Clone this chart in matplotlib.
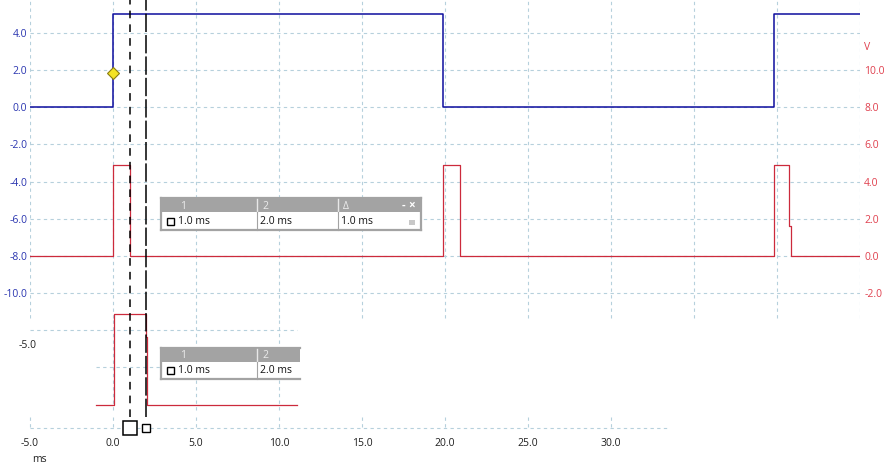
import matplotlib.pyplot as plt
from matplotlib.patches import Rectangle

plt.rcParams['font.family'] = ['Open Sans', 'DejaVu Sans']

# channel A (blue, left axis, V) - step trace
blue_t = [-5.0, 0.0, 0.0, 19.9, 19.9, 39.8, 39.8, 45.0]
blue_v = [0.0, 0.0, 5.05, 5.05, 0.0, 0.0, 5.05, 5.05]

# channel B (red, right axis, V) - short pulses
red_t = [-5.0, 0.0, 0.0, 1.02, 1.02, 19.9, 19.9, 20.9, 20.9,
         39.8, 39.8, 40.74, 40.74, 40.84, 40.84, 45.0]
red_v = [0.0, 0.0, 4.9, 4.9, 0.0, 0.0, 4.9, 4.9, 0.0,
         0.0, 4.9, 4.9, 1.6, 1.6, 0.0, 0.0]

# zoomed capture of channel B pasted under the main view
inset_t = [-1.0, 0.05, 0.05, 2.0, 2.0, 2.03, 2.03, 11.1]
inset_v = [0.0, 0.0, 4.9, 4.9, 3.7, 3.7, 0.0, 0.0]
inset_offset = -8.05

left_ticks = [4.0, 2.0, 0.0, -2.0, -4.0, -6.0, -8.0, -10.0]
right_ticks = [10.0, 8.0, 6.0, 4.0, 2.0, 0.0, -2.0]
x_grid = [-5, 0, 5, 10, 15, 20, 25, 30, 35, 40, 45]
x_labels = [-5.0, 0.0, 5.0, 10.0, 15.0, 20.0, 25.0, 30.0]

trigger = (0.0, 1.84)
cursors = [1.0, 2.0]
delta = cursors[1] - cursors[0]

BLUE = '#0d0d9e'
BLUE_TXT = '#2a35b0'
RED = '#cc2a3c'
RED_TXT = '#e0404e'
GRID = '#b6d0dc'
GREY = '#a3a3a3'

W, H = 892, 468


def fx(px):
    return px / W


def fy(py):
    return 1 - py / H


fig = plt.figure(figsize=(W / 100, H / 100), dpi=100)
ax = fig.add_axes([fx(30), fy(428), 830 / W, 428 / H])
ax.set_xlim(-5, 45)
ax.set_ylim(-17.27, 5.78)
for s in ax.spines.values():
    s.set_visible(False)

dash = (0, (3, 3))
# main grid
ax.hlines(left_ticks, -5, 45, colors=GRID, linestyles=dash, lw=0.8)
ax.vlines(x_grid, -11.35, 5.78, colors=GRID, linestyles=dash, lw=0.8)
# inset grid
ax.hlines(-12, -5, 11.1, colors=GRID, linestyles=dash, lw=0.8)
ax.hlines(-14, -1, 11.1, colors=GRID, linestyles=dash, lw=0.8)
ax.vlines([0, 5, 10], -16.3, -11.35, colors=GRID, linestyles=dash, lw=0.8)
# bottom axis line and short ticks
ax.hlines(-17.27, -5, 33.4, colors=GRID, linestyles=dash, lw=0.8, clip_on=False)
ax.vlines(x_labels, -16.68, -17.27, colors=GRID, linestyles=dash, lw=0.8, clip_on=False)

ax.plot(blue_t, blue_v, color=BLUE, lw=1.1, zorder=3)
ax.plot(*trigger, marker='D', ms=6, mfc='#f3e326', mec='#8a7d10', mew=0.8, zorder=5)

ax2 = ax.twinx()
lo, hi = ax.get_ylim()
ax2.set_ylim(lo + 8, hi + 8)
for s in ax2.spines.values():
    s.set_visible(False)
ax2.plot(red_t, red_v, color=RED, lw=0.9, zorder=3)
ax2.plot(inset_t, [v + inset_offset for v in inset_v], color=RED, lw=0.9, zorder=3)

# cursors
ax2.axvline(cursors[0], ymin=0.025, ymax=1, color='black', lw=1.1,
            linestyle=(0, (5, 4)), zorder=4)
ax2.axvline(cursors[1], ymin=0.025, ymax=1, color='black', lw=1.1,
            linestyle=(0, (12, 2)), zorder=4)
ax.plot(cursors[0], -17.27, 's', ms=9.5, mfc='white', mec='black', mew=1.1,
        clip_on=False, zorder=6)
ax.plot(cursors[1], -17.27, 's', ms=5.5, mfc='white', mec='black', mew=1.0,
        clip_on=False, zorder=6)

# ticks
ax.set_yticks(left_ticks)
ax.set_yticklabels([f'{v:.1f}' for v in left_ticks])
ax.tick_params(axis='y', length=0, pad=2, labelsize=7.5, labelcolor=BLUE_TXT)
ax2.set_yticks(right_ticks)
ax2.set_yticklabels([f'{v:.1f}' for v in right_ticks])
ax2.tick_params(axis='y', length=0, pad=3, labelsize=7.5, labelcolor=RED_TXT)
ax.set_xticks(x_labels)
ax.set_xticklabels([f'{v:.1f}' for v in x_labels])
ax.tick_params(axis='x', length=0, pad=7, labelsize=7.5, labelcolor='#202020')

fig.text(fx(864), fy(47), 'V', color=RED_TXT, fontsize=7.5, va='center', ha='left')
fig.text(fx(32), fy(459), 'ms', color='#202020', fontsize=7.5, va='center', ha='left')
fig.text(fx(37), fy(345), '-5.0', color='#202020', fontsize=7.5, va='center', ha='right')


def cursor_table(x0, x1, top, mid, bot, headers, values, right_edge=True):
    kw = dict(transform=fig.transFigure, zorder=7)
    fig.add_artist(Rectangle((fx(x0), fy(bot)), fx(x1 - x0), (bot - top) / H,
                             facecolor='white', edgecolor='none', **kw))
    fig.add_artist(Rectangle((fx(x0), fy(mid)), fx(x1 - x0), (mid - top) / H,
                             facecolor=GREY, edgecolor='none', **kw))
    edge = dict(color=GREY, lw=1.6, transform=fig.transFigure, zorder=8)
    fig.add_artist(plt.Line2D([fx(x0), fx(x0)], [fy(top), fy(bot)], **edge))
    fig.add_artist(plt.Line2D([fx(x0), fx(x1)], [fy(bot), fy(bot)], **edge))
    fig.add_artist(plt.Line2D([fx(x0), fx(x1)], [fy(top), fy(top)], **edge))
    if right_edge:
        fig.add_artist(plt.Line2D([fx(x1), fx(x1)], [fy(top), fy(bot)], **edge))
    cols = [178, 260, 341]
    for i, (h, v) in enumerate(zip(headers, values)):
        c = cols[i]
        if i > 0:
            fig.add_artist(plt.Line2D([fx(c - 3), fx(c - 3)], [fy(top + 1), fy(mid)],
                                      color='#e8e8e8', lw=1.0, transform=fig.transFigure, zorder=8))
            fig.add_artist(plt.Line2D([fx(c - 3), fx(c - 3)], [fy(mid), fy(bot)],
                                      color=GREY, lw=0.8, transform=fig.transFigure, zorder=8))
        fig.text(fx(c + 2), fy((top + mid) / 2 + 1), h, color='#ececec', fontsize=7.5,
                 va='center', ha='left', zorder=9)
        fig.text(fx(c), fy((mid + bot) / 2 + 0.5), v, color='#111111', fontsize=7.5,
                 va='center', ha='left', zorder=9)
    fig.add_artist(Rectangle((fx(166.5), fy((mid + bot) / 2 + 3.5)), fx(7), 7 / H,
                             facecolor='white', edgecolor='black', lw=1.0,
                             transform=fig.transFigure, zorder=9))


cursor_table(161, 421, 198, 212.5, 230,
             ['1', '2', '\u0394'],
             [f'{cursors[0]:.1f} ms', f'{cursors[1]:.1f} ms', f'{delta:.1f} ms'])
fig.text(fx(403), fy(205), '-', color='white', fontsize=8, fontweight='bold',
         ha='center', va='center', zorder=9)
fig.text(fx(412), fy(205), '\u00d7', color='white', fontsize=8.5, fontweight='bold',
         ha='center', va='center', zorder=9)
fig.add_artist(Rectangle((fx(408.5), fy(225)), fx(6), 5 / H, facecolor='#c8c8c8',
                         edgecolor='none', transform=fig.transFigure, zorder=9))

cursor_table(161, 300, 347.5, 362, 378.5,
             ['1', '2'],
             [f'{cursors[0]:.1f} ms', f'{cursors[1]:.1f} ms'], right_edge=False)

fig.savefig('out.png', dpi=100)
